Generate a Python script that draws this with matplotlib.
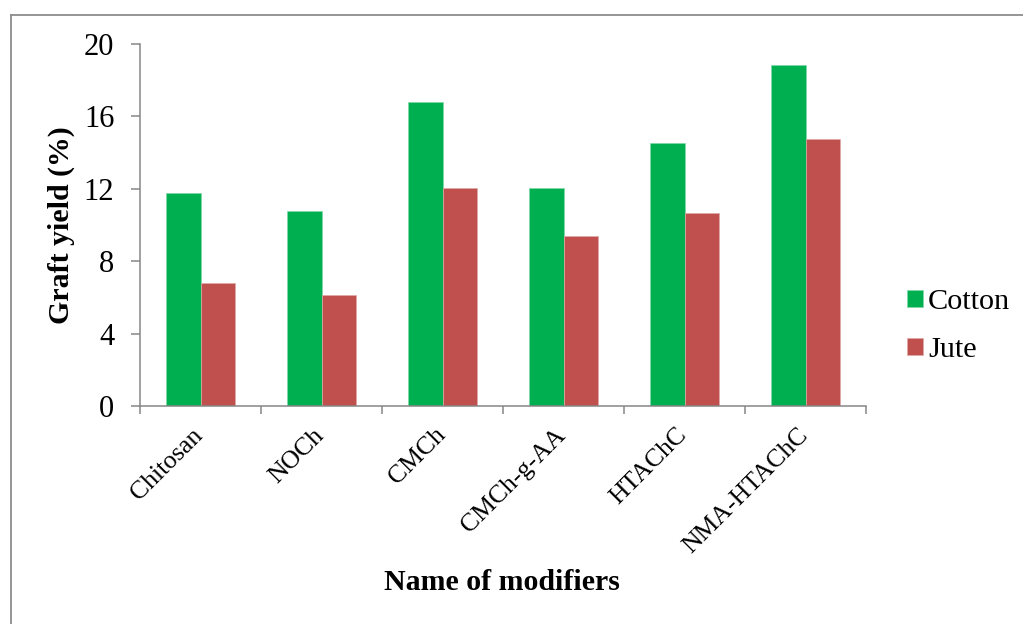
import numpy as np
import matplotlib
matplotlib.use('Agg')
import matplotlib.pyplot as plt
from matplotlib.lines import Line2D
from matplotlib.transforms import ScaledTranslation

# Data
modifiers = ['Chitosan', 'NOCh', 'CMCh', 'CMCh-g-AA', 'HTAChC', 'NMA-HTAChC']
cotton = [11.75, 10.75, 16.77, 12.03, 14.54, 18.85]
jute = [6.77, 6.11, 12.03, 9.37, 10.66, 14.74]
yticks = [0, 4, 8, 12, 16, 20]

plt.rcParams['font.family'] = ['Liberation Serif', 'DejaVu Serif']
axis_grey = '#868686'

fig = plt.figure(figsize=(10.23, 6.24), dpi=100)
W, H = 1023, 624
ax = fig.add_axes([140 / W, (H - 406) / H, 726 / W, 362 / H])

x = np.arange(len(modifiers))
bw = 0.285
ax.bar(x - bw / 2, cotton, bw, color='#00B050', label='Cotton',
       edgecolor='#7fd8a7', linewidth=0.5)
ax.bar(x + bw / 2, jute, bw, color='#C0504D', label='Jute',
       edgecolor='#e0a8a6', linewidth=0.5)

ax.set_xlim(-0.5, len(modifiers) - 0.5)
ax.set_ylim(0, 20)
ax.set_yticks(yticks)
ax.tick_params(axis='y', labelsize=22, length=6.5, width=1.1,
               color=axis_grey, pad=12)

# category labels at centres, tick marks at the boundaries
ax.set_xticks(x)
ax.set_xticklabels(modifiers, rotation=45, ha='right', va='top', fontsize=18.5)
ax.tick_params(axis='x', which='major', length=0, pad=13)
ax.set_xticks(np.arange(len(modifiers) + 1) - 0.5, minor=True)
ax.tick_params(axis='x', which='minor', length=6, width=1.1, color=axis_grey)
shift = ScaledTranslation(7 / 100, 0, fig.dpi_scale_trans)
for lbl in ax.get_xticklabels():
    lbl.set_transform(lbl.get_transform() + shift)

for side in ['top', 'right']:
    ax.spines[side].set_visible(False)
for side in ['left', 'bottom']:
    ax.spines[side].set_color(axis_grey)
    ax.spines[side].set_linewidth(1.1)

fig.text(502 / W, 1 - 583 / H, 'Name of modifiers', ha='center', va='center',
         fontsize=21.5, fontweight='bold')
fig.text(61 / W, 1 - 225 / H, 'Graft yield (%)', ha='center', va='center',
         rotation=90, fontsize=21.5, fontweight='bold')

ax.legend(loc='center left', bbox_to_anchor=(906.7 / W, 1 - 326 / H),
          bbox_transform=fig.transFigure, frameon=False, fontsize=21.8,
          handlelength=0.55, handleheight=0.5, handletextpad=0.15,
          labelspacing=0.73, borderpad=0, borderaxespad=0)

# chart area border (top and left edges visible)
fig.add_artist(Line2D([11 / W, 1], [1 - 15 / H, 1 - 15 / H],
                      transform=fig.transFigure, color='#8c8c8c', lw=1.3))
fig.add_artist(Line2D([11 / W, 11 / W], [0, 1 - 15 / H],
                      transform=fig.transFigure, color='#8c8c8c', lw=1.3))

fig.savefig('out.png', dpi=100)
